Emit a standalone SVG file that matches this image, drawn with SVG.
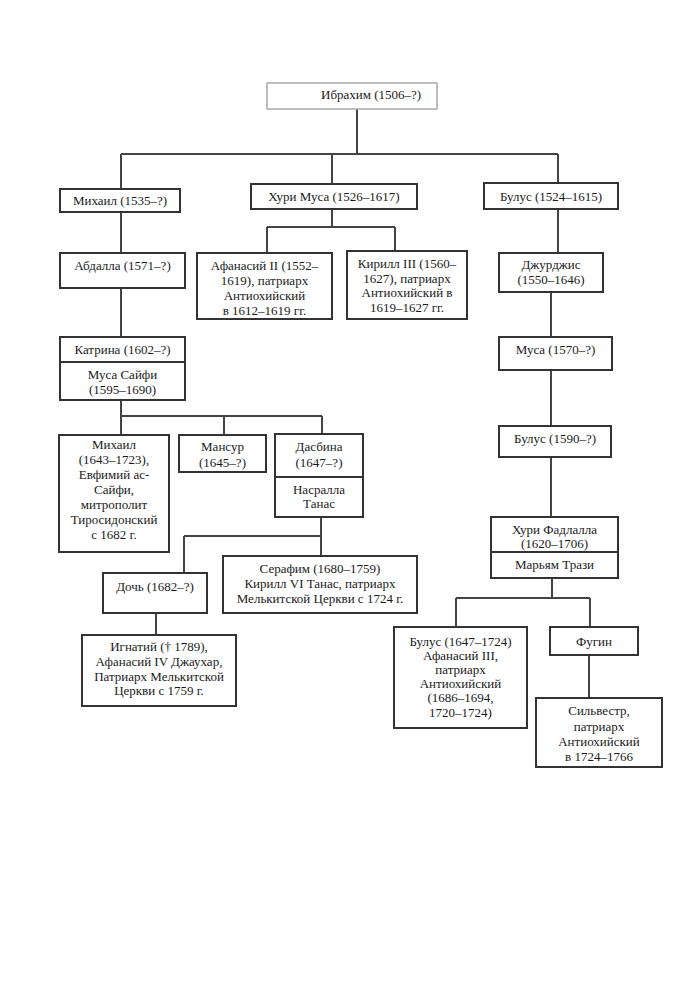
<svg xmlns="http://www.w3.org/2000/svg" width="700" height="991" viewBox="0 0 700 991">
<style>
.b{fill:#fff;stroke:#333;stroke-width:2}
.t{font-family:"Liberation Serif","Times New Roman",serif;font-size:13px;fill:#1a1a1a;text-anchor:middle}
.c{fill:none;stroke:#444;stroke-width:2}
</style>
<rect width="700" height="991" fill="#fff"/>
<g id="connectors">
<path class="c" d="M357 109V154M121 154H558M121 154V189M332 154V184M558 154V183"/>
<path class="c" d="M332 209V227M267 227H395M267 227V253M395 227V251"/>
<path class="c" d="M121 212V253M121 288V337"/>
<path class="c" d="M121 400V435M121 416H322M224 416V435M322 416V434"/>
<path class="c" d="M321 517V536M184 536H321M184 536V573M321 536V556"/>
<path class="c" d="M156 613V635"/>
<path class="c" d="M558 209V253M551 292V337M551 370V426M551 457V517"/>
<path class="c" d="M552 578V598M456 598H590M456 598V627M590 598V627"/>
<path class="c" d="M589 655V698"/>
</g>
<g id="n-ibrahim"><rect x="267" y="83" width="170" height="26" fill="#fff" stroke="#aaa" stroke-width="1.5"/><text class="t" x="321" y="99" style="text-anchor:start">Ибрахим (1506–?)</text></g>
<g id="n-mikhail1"><rect class="b" x="60" y="189" width="120" height="23"/><text class="t" x="120" y="205">Михаил (1535–?)</text></g>
<g id="n-khurimusa"><rect class="b" x="251" y="184" width="166" height="25"/><text class="t" x="334" y="201">Хури Муса (1526–1617)</text></g>
<g id="n-bulus1"><rect class="b" x="484" y="183" width="134" height="26"/><text class="t" x="551" y="201">Булус (1524–1615)</text></g>
<g id="n-abdalla"><rect class="b" x="60" y="253" width="125" height="35"/><text class="t" x="122.5" y="270">Абдалла (1571–?)</text></g>
<g id="n-afanasiy2"><rect class="b" x="197" y="253" width="135" height="66"/><text class="t" x="264.5" y="270">Афанасий II (1552–</text><text class="t" x="264.5" y="285">1619), патриарх</text><text class="t" x="264.5" y="300">Антиохийский</text><text class="t" x="264.5" y="315">в 1612–1619 гг.</text></g>
<g id="n-kirill3"><rect class="b" x="347" y="251" width="120" height="68"/><text class="t" x="407" y="268">Кирилл III (1560–</text><text class="t" x="407" y="283">1627), патриарх</text><text class="t" x="407" y="297">Антиохийский в</text><text class="t" x="407" y="312">1619–1627 гг.</text></g>
<g id="n-djurdjis"><rect class="b" x="499" y="253" width="104" height="39"/><text class="t" x="551" y="269">Джурджис</text><text class="t" x="551" y="284">(1550–1646)</text></g>
<g id="n-musa"><rect class="b" x="499" y="337" width="113" height="33"/><text class="t" x="555.5" y="354">Муса (1570–?)</text></g>
<g id="n-katrina"><rect class="b" x="60" y="337" width="125" height="63"/><line x1="60" y1="362" x2="185" y2="362" stroke="#333" stroke-width="2"/><text class="t" x="122.5" y="354">Катрина (1602–?)</text><text class="t" x="122.5" y="379">Муса Сайфи</text><text class="t" x="122.5" y="394">(1595–1690)</text></g>
<g id="n-bulus2"><rect class="b" x="499" y="426" width="112" height="31"/><text class="t" x="555" y="443">Булус  (1590–?)</text></g>
<g id="n-mikhail2"><rect class="b" x="59" y="435" width="110" height="117"/><text class="t" x="114" y="449">Михаил</text><text class="t" x="114" y="464">(1643–1723),</text><text class="t" x="114" y="479">Евфимий ас-</text><text class="t" x="114" y="494">Сайфи,</text><text class="t" x="114" y="509">митрополит</text><text class="t" x="114" y="524">Тиросидонский</text><text class="t" x="114" y="539">с 1682 г.</text></g>
<g id="n-mansur"><rect class="b" x="179" y="435" width="87" height="37"/><text class="t" x="222.5" y="451">Мансур</text><text class="t" x="222.5" y="467">(1645–?)</text></g>
<g id="n-dasbina"><rect class="b" x="275" y="434" width="88" height="83"/><line x1="275" y1="477" x2="363" y2="477" stroke="#333" stroke-width="2"/><text class="t" x="319" y="451">Дасбина</text><text class="t" x="319" y="467">(1647–?)</text><text class="t" x="319" y="494">Насралла</text><text class="t" x="319" y="508">Танас</text></g>
<g id="n-fadlalla"><rect class="b" x="491" y="517" width="127" height="61"/><text class="t" x="554.5" y="534">Хури Фадлалла</text><text class="t" x="554.5" y="548">(1620–1706)</text><rect x="492" y="551" width="125" height="26" fill="#fff"/><line x1="491" y1="552" x2="618" y2="552" stroke="#333" stroke-width="2"/><text class="t" x="554.5" y="569">Марьям Трази</text></g>
<g id="n-doch"><rect class="b" x="103" y="573" width="104" height="40"/><text class="t" x="155" y="591">Дочь (1682–?)</text></g>
<g id="n-serafim"><rect class="b" x="223" y="556" width="194" height="57"/><text class="t" x="320" y="573">Серафим (1680–1759)</text><text class="t" x="320" y="588">Кирилл VI Танас, патриарх</text><text class="t" x="320" y="603">Мелькитской Церкви с 1724 г.</text></g>
<g id="n-ignatiy"><rect class="b" x="82" y="635" width="154" height="71"/><text class="t" x="159" y="651">Игнатий († 1789),</text><text class="t" x="159" y="666">Афанасий IV Джаухар,</text><text class="t" x="159" y="681">Патриарх Мелькитской</text><text class="t" x="159" y="695">Церкви с 1759 г.</text></g>
<g id="n-bulus3"><rect class="b" x="394" y="627" width="133" height="101"/><text class="t" x="460.5" y="646">Булус (1647–1724)</text><text class="t" x="460.5" y="660">Афанасий III,</text><text class="t" x="460.5" y="674">патриарх</text><text class="t" x="460.5" y="688">Антиохийский</text><text class="t" x="460.5" y="702">(1686–1694,</text><text class="t" x="460.5" y="717">1720–1724)</text></g>
<g id="n-fugin"><rect class="b" x="550" y="627" width="88" height="28"/><text class="t" x="594" y="646">Фугин</text></g>
<g id="n-silvestr"><rect class="b" x="536" y="698" width="126" height="69"/><text class="t" x="599" y="715">Сильвестр,</text><text class="t" x="599" y="731">патриарх</text><text class="t" x="599" y="746">Антиохийский</text><text class="t" x="599" y="761">в 1724–1766</text></g>
</svg>
